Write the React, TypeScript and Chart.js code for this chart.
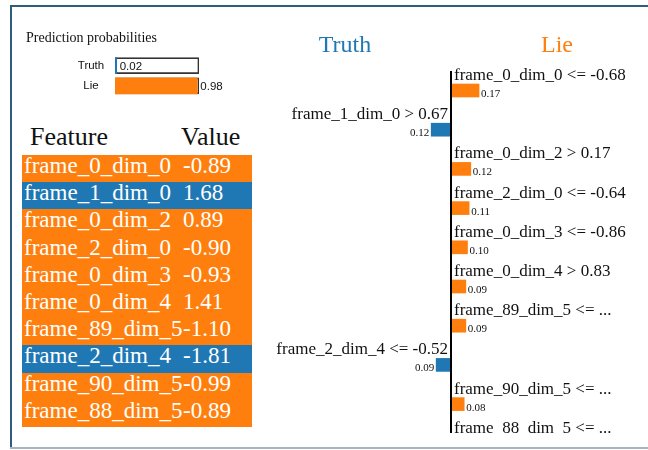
import React, { useEffect, useRef } from "react";
import { Chart, registerables } from "chart.js";

Chart.register(...registerables);

// Class probabilities
const classNames = ["Truth", "Lie"];
const classProbs = [0.02, 0.98];
const classColors = ["#1f77b4", "#ff7f0e"];

// Explanation rules and their weights (negative = Truth, positive = Lie)
const ruleLabels = [
  "frame_0_dim_0 <= -0.68",
  "frame_1_dim_0 > 0.67",
  "frame_0_dim_2 > 0.17",
  "frame_2_dim_0 <= -0.64",
  "frame_0_dim_3 <= -0.86",
  "frame_0_dim_4 > 0.83",
  "frame_89_dim_5 <= ...",
  "frame_2_dim_4 <= -0.52",
  "frame_90_dim_5 <= ...",
  "frame_88_dim_5 <= ...",
];
const ruleWeights = [0.17, -0.12, 0.12, 0.11, 0.1, 0.09, 0.09, -0.09, 0.08, 0.08];

// Feature / value table
const featureNames = [
  "frame_0_dim_0",
  "frame_1_dim_0",
  "frame_0_dim_2",
  "frame_2_dim_0",
  "frame_0_dim_3",
  "frame_0_dim_4",
  "frame_89_dim_5",
  "frame_2_dim_4",
  "frame_90_dim_5",
  "frame_88_dim_5",
];
const featureValues = ["-0.89", "1.68", "0.89", "-0.90", "-0.93", "1.41", "-1.10", "-1.81", "-0.99", "-0.89"];

const SERIF = '"Liberation Serif", "Times New Roman", serif';
const SANS = '"Liberation Sans", Arial, sans-serif';

const colorForWeight = (w: number) => (w < 0 ? classColors[0] : classColors[1]);

export default function App() {
  const probRef = useRef<HTMLCanvasElement>(null);
  const expRef = useRef<HTMLCanvasElement>(null);

  useEffect(() => {
    const charts: Chart[] = [];

    // Prediction probabilities
    const probText = {
      id: "probText",
      afterDatasetsDraw(chart: any) {
        const ctx = chart.ctx;
        const xs = chart.scales.x;
        const meta = chart.getDatasetMeta(1);
        ctx.save();
        ctx.fillStyle = "#111";
        ctx.font = `14px ${SERIF}`;
        ctx.textAlign = "left";
        ctx.textBaseline = "middle";
        ctx.fillText("Prediction probabilities", 6, 13);
        ctx.font = `11.5px ${SANS}`;
        meta.data.forEach((bar: any, i: number) => {
          ctx.textAlign = "center";
          ctx.fillText(classNames[i], 71, bar.y);
          ctx.textAlign = "left";
          ctx.fillText(classProbs[i].toFixed(2), xs.getPixelForValue(classProbs[i]) + 3, bar.y + 1);
        });
        ctx.restore();
      },
    };

    if (probRef.current) {
      charts.push(
        new Chart(probRef.current, {
          type: "bar",
          data: {
            labels: classNames,
            datasets: [
              {
                data: classNames.map(() => 1),
                backgroundColor: "rgba(255,255,255,0)",
                borderColor: "#333",
                borderWidth: 1,
                borderSkipped: false,
                barThickness: 16,
                grouped: false,
                order: 2,
              },
              {
                data: classProbs,
                backgroundColor: classColors,
                borderWidth: 0,
                barThickness: 16,
                grouped: false,
                order: 1,
              },
            ],
          },
          options: {
            indexAxis: "y",
            responsive: false,
            animation: false,
            events: [],
            layout: { padding: { left: 95, right: 61, top: 30.5, bottom: 9 } },
            plugins: { legend: { display: false }, tooltip: { enabled: false } },
            scales: {
              x: { type: "linear", min: 0, max: 1, display: false },
              y: { type: "category", display: false },
            },
          },
          plugins: [probText],
        })
      );
    }

    // Explanation bars
    const ruleText = {
      id: "ruleText",
      afterDatasetsDraw(chart: any) {
        const ctx = chart.ctx;
        const xs = chart.scales.x;
        const meta = chart.getDatasetMeta(0);
        const x0 = xs.getPixelForValue(0);
        ctx.save();
        // zero axis
        ctx.fillStyle = "#000";
        ctx.fillRect(x0 - 1, 51, 2, chart.height - 51);
        // class titles
        ctx.font = `24px ${SERIF}`;
        ctx.textAlign = "center";
        ctx.textBaseline = "alphabetic";
        ctx.fillStyle = classColors[0];
        ctx.fillText(classNames[0], x0 - 106, 31.5);
        ctx.fillStyle = classColors[1];
        ctx.fillText(classNames[1], x0 + 106, 31.5);
        meta.data.forEach((bar: any, i: number) => {
          const w = ruleWeights[i];
          const neg = w < 0;
          ctx.fillStyle = "#111";
          ctx.font = `17px ${SERIF}`;
          ctx.textAlign = neg ? "right" : "left";
          ctx.fillText(ruleLabels[i], neg ? x0 - 3 : x0 + 3, bar.y - 10.5);
          ctx.font = `11px ${SERIF}`;
          const end = xs.getPixelForValue(w);
          ctx.fillText(Math.abs(w).toFixed(2), neg ? end - 2 : end + 2, bar.y + 6.5);
        });
        ctx.restore();
      },
    };

    if (expRef.current) {
      charts.push(
        new Chart(expRef.current, {
          type: "bar",
          data: {
            datasets: [
              {
                data: ruleWeights.map((w, i) => ({ x: w, y: i })),
                backgroundColor: ruleWeights.map(colorForWeight),
                borderWidth: 0,
                barThickness: 13,
              },
            ],
          },
          options: {
            indexAxis: "y",
            responsive: false,
            animation: false,
            events: [],
            layout: { padding: 0 },
            plugins: { legend: { display: false }, tooltip: { enabled: false } },
            scales: {
              x: { type: "linear", min: -181 / 165, max: 197 / 165, offset: false, display: false },
              y: { type: "linear", min: -1.7985, max: 8.737, reverse: true, offset: false, display: false },
            },
          },
          plugins: [ruleText],
        })
      );
    }

    return () => charts.forEach((c) => c.destroy());
  }, []);

  const rowTop = 155;
  const rowH = 27.2;

  return (
    <div
      style={{
        position: "absolute",
        left: 0,
        top: 0,
        width: 648,
        height: 450,
        background: "#fff",
        overflow: "hidden",
        fontFamily: SERIF,
      }}
    >
      {/* frame */}
      <div style={{ position: "absolute", left: 10, top: 5, width: 638, height: 2, background: "#2f5e7c" }} />
      <div style={{ position: "absolute", left: 10, top: 5, width: 2, height: 444, background: "#2f5e7c" }} />
      <div style={{ position: "absolute", left: 10, top: 447, width: 638, height: 2, background: "#aab4be" }} />

      <canvas ref={probRef} width={240} height={80} style={{ position: "absolute", left: 20, top: 25 }} />

      {/* feature table */}
      <div style={{ position: "absolute", left: 30, top: 122, fontSize: 26, lineHeight: "30px", color: "#111" }}>
        Feature
      </div>
      <div style={{ position: "absolute", left: 181, top: 122, fontSize: 26, lineHeight: "30px", color: "#111" }}>
        Value
      </div>
      {featureNames.map((name, i) => (
        <div
          key={name}
          style={{
            position: "absolute",
            left: 22,
            top: rowTop + i * rowH,
            width: 230,
            height: rowH,
            background: colorForWeight(ruleWeights[i]),
            color: "#fff",
            fontSize: 23,
          }}
        >
          <div style={{ position: "absolute", left: 2, top: -1, lineHeight: "23px", whiteSpace: "nowrap" }}>{name}</div>
          <div style={{ position: "absolute", left: 161, top: -1, lineHeight: "23px", whiteSpace: "nowrap" }}>
            {featureValues[i]}
          </div>
        </div>
      ))}

      <canvas ref={expRef} width={378} height={413} style={{ position: "absolute", left: 270, top: 20 }} />
    </div>
  );
}
